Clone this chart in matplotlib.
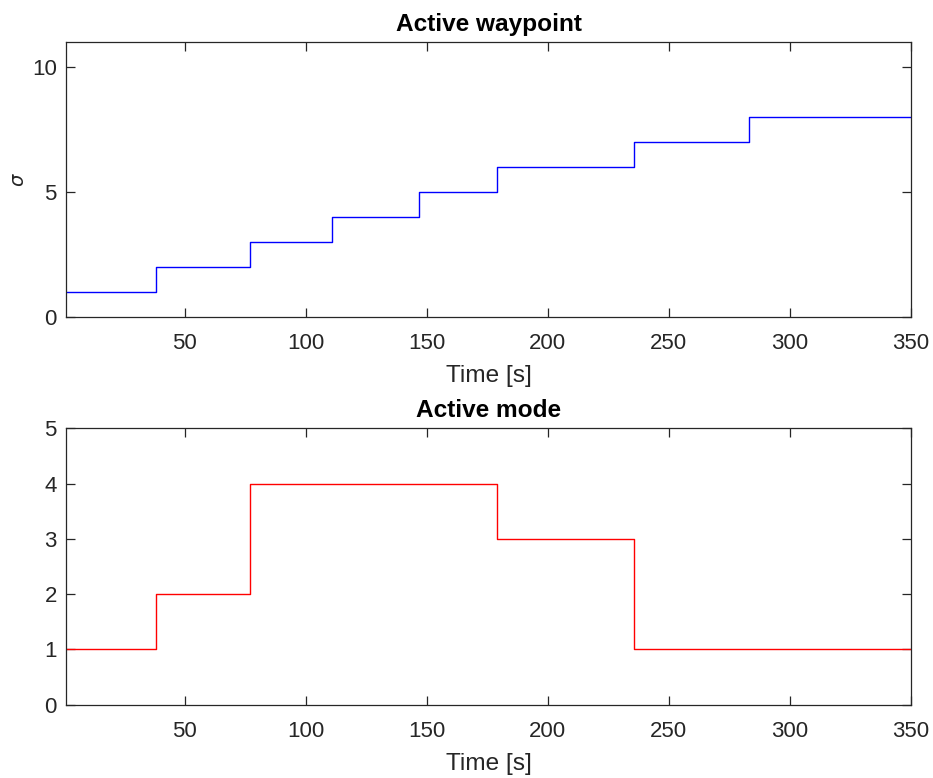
import matplotlib
matplotlib.use("Agg")
import matplotlib.pyplot as plt

plt.rcParams['font.family'] = ['Liberation Sans', 'DejaVu Sans']

# Data
wp_times = [1, 38, 77, 111, 147, 179, 235.5, 283, 350]
wp_values = [1, 2, 3, 4, 5, 6, 7, 8, 8]
mode_times = [1, 38, 77, 179, 235.5, 350]
mode_values = [1, 2, 4, 3, 1, 1]
x_ticks = [50, 100, 150, 200, 250, 300, 350]
wp_yticks = [0, 5, 10]
mode_yticks = [0, 1, 2, 3, 4, 5]

fig = plt.figure(figsize=(9.33, 7.78), dpi=100)
ax1 = fig.add_axes([0.0707, 0.5921, 0.9057, 0.3540])
ax2 = fig.add_axes([0.0707, 0.0942, 0.9057, 0.3553])

axcol = '#262626'

def style(ax):
    for s in ax.spines.values():
        s.set_color(axcol)
        s.set_linewidth(0.9)
    ax.tick_params(direction='in', length=6.5, width=0.9, colors=axcol,
                   labelsize=16, top=True, right=True)
    ax.tick_params(axis='x', pad=11.5)
    ax.tick_params(axis='y', pad=6.5)
    for lbl in ax.get_xticklabels() + ax.get_yticklabels():
        lbl.set_color(axcol)

ax1.step(wp_times, wp_values, where='post', color='#0000ff', lw=1.0)
ax1.set_xlim(1, 350)
ax1.set_ylim(0, 11)
ax1.set_xticks(x_ticks)
ax1.set_yticks(wp_yticks)
ax1.set_title('Active waypoint', fontsize=17.6, fontweight='bold', pad=8)
ax1.set_xlabel('Time [s]', fontsize=17.6, color=axcol, labelpad=8)
ax1.set_ylabel(r'$\sigma$', fontsize=14, color=axcol, labelpad=3)
style(ax1)

ax2.step(mode_times, mode_values, where='post', color='#ff0000', lw=1.0)
ax2.set_xlim(1, 350)
ax2.set_ylim(0, 5)
ax2.set_xticks(x_ticks)
ax2.set_yticks(mode_yticks)
ax2.set_title('Active mode', fontsize=17.6, fontweight='bold', pad=8)
ax2.set_xlabel('Time [s]', fontsize=17.6, color=axcol, labelpad=8)
style(ax2)

fig.savefig('out.png', dpi=100)
